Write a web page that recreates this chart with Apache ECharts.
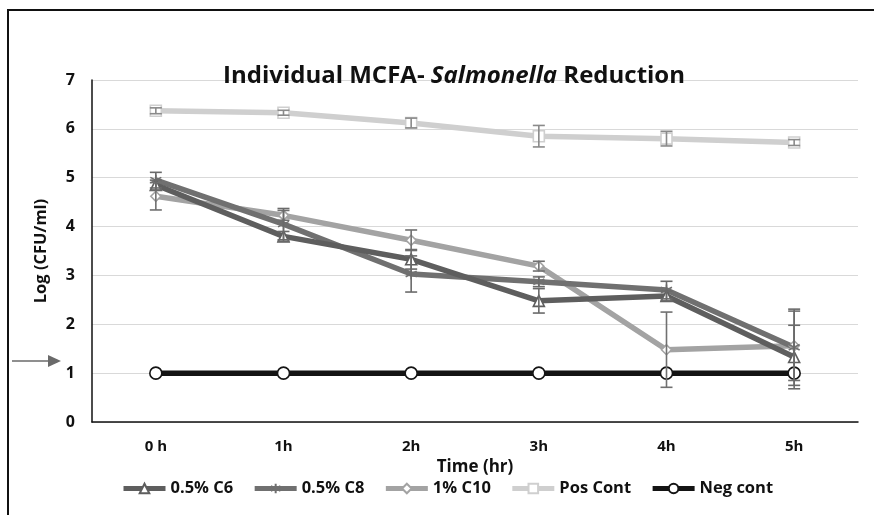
<!DOCTYPE html>
<html>
<head>
<meta charset="utf-8">
<script src="https://cdn.jsdelivr.net/npm/echarts@6/dist/echarts.min.js"></script>
<style>html,body{margin:0;padding:0;background:#fff}#c{width:874px;height:515px}</style>
</head>
<body>
<div id="c"></div>
<script>
const categories = ['0 h', '1h', '2h', '3h', '4h', '5h'];
const yTicks = [0, 1, 2, 3, 4, 5, 6, 7];
const c6 = [4.85, 3.80, 3.33, 2.48, 2.58, 1.33];
const c6Err = [0.10, 0.10, 0.20, 0.25, 0.10, 0.65];
const c8 = [4.95, 4.05, 3.03, 2.87, 2.70, 1.53];
const c8Err = [0.16, 0.32, 0.37, 0.10, 0.18, 0.78];
const c10 = [4.62, 4.23, 3.72, 3.19, 1.48, 1.56];
const c10Err = [0.28, 0.10, 0.21, 0.10, 0.77, 0.71];
const posCont = [6.37, 6.33, 6.12, 5.85, 5.80, 5.72];
const posErr = [0.06, 0.05, 0.10, 0.22, 0.15, 0.06];
const negCont = [1, 1, 1, 1, 1, 1];
const negErr = [0, 0, 0, 0, 0, 0];

const FONT = 'Open Sans';
const asterisk = 'path://M0,-10L0,10M-8.7,-5L8.7,5M-8.7,5L8.7,-5';

function errData(vals, errs) {
  return vals.map((v, i) => [i, v - errs[i], v + errs[i]]);
}
function errSeries(name, vals, errs, color) {
  return {
    type: 'custom', name: name + ' err', z: 5, silent: true,
    data: errData(vals, errs),
    encode: { x: 0, y: [1, 2] },
    renderItem: function (params, api) {
      const lo = api.coord([api.value(0), api.value(1)]);
      const hi = api.coord([api.value(0), api.value(2)]);
      const w = 6;
      const st = { stroke: color, lineWidth: 1.6 };
      if (Math.abs(hi[1] - lo[1]) < 1) return null;
      return { type: 'group', children: [
        { type: 'line', shape: { x1: lo[0], y1: lo[1], x2: hi[0], y2: hi[1] }, style: st },
        { type: 'line', shape: { x1: lo[0] - w, y1: lo[1], x2: lo[0] + w, y2: lo[1] }, style: st },
        { type: 'line', shape: { x1: hi[0] - w, y1: hi[1], x2: hi[0] + w, y2: hi[1] }, style: st }
      ]};
    }
  };
}

const colC6 = '#5e5e5e', colC8 = '#707070', colC10 = '#a3a3a3', colPos = '#cfcfcf', colNeg = '#141414';

function lineSeries(name, data, color, symbol, size, z, fill) {
  return {
    type: 'line', name: name, data: data, z: z,
    symbol: symbol, symbolSize: size,
    lineStyle: { color: color, width: 5.5 },
    itemStyle: { color: fill || '#fff', borderColor: color, borderWidth: 1.6 },
    emphasis: { disabled: true }
  };
}

const chart = echarts.init(document.getElementById('c'));
chart.setOption({
  animation: false,
  backgroundColor: '#fff',
  textStyle: { fontFamily: FONT },
  title: {
    text: 'Individual MCFA- {i|Salmonella} Reduction',
    left: 449, top: 59, textAlign: 'center',
    textStyle: {
      fontFamily: FONT, fontWeight: 'bold', fontSize: 24, color: '#111',
      rich: { i: { fontFamily: FONT, fontWeight: 'bold', fontStyle: 'italic', fontSize: 24, color: '#111' } }
    }
  },
  grid: { left: 92, right: 16, top: 80, bottom: 93, containLabel: false },
  legend: {
    bottom: 13, left: 116, itemWidth: 42, itemHeight: 12, itemGap: 19,
    lineStyle: { width: 5 },
    textStyle: { fontFamily: FONT, fontWeight: 'bold', fontSize: 16.5, color: '#111' },
    data: ['0.5% C6', '0.5% C8', '1% C10', 'Pos Cont', 'Neg cont']
  },
  xAxis: {
    type: 'category', data: categories, boundaryGap: true,
    name: 'Time (hr)', nameLocation: 'middle', nameGap: 32,
    nameTextStyle: { fontFamily: FONT, fontWeight: 'bold', fontSize: 17, color: '#111' },
    axisLine: { lineStyle: { color: '#111', width: 1.5 } },
    axisTick: { show: false },
    axisLabel: { fontFamily: FONT, fontWeight: 'bold', fontSize: 15, color: '#111', margin: 17 },
    splitLine: { show: false }
  },
  yAxis: {
    type: 'value', min: yTicks[0], max: yTicks[yTicks.length - 1], interval: 1,
    name: 'Log (CFU/ml)', nameLocation: 'middle', nameGap: 42, nameRotate: 90,
    nameTextStyle: { fontFamily: FONT, fontWeight: 'bold', fontSize: 16.5, color: '#111' },
    axisLine: { show: true, lineStyle: { color: '#111', width: 1.5 } },
    axisTick: { show: false },
    axisLabel: { fontFamily: FONT, fontWeight: 'bold', fontSize: 16, color: '#111', margin: 17 },
    splitLine: { lineStyle: { color: '#d9d9d9', width: 1.2 } }
  },
  graphic: [
    { type: 'rect', shape: { x: 8, y: 10, width: 1000, height: 700 }, style: { fill: 'none', stroke: '#111', lineWidth: 2 }, z: 100 },
    { type: 'line', shape: { x1: 12, y1: 361, x2: 52, y2: 361 }, style: { stroke: '#6a6a6a', lineWidth: 1.5 }, z: 100 },
    { type: 'polygon', shape: { points: [[48, 355], [61, 361], [48, 367]] }, style: { fill: '#6a6a6a' }, z: 100 }
  ],
  series: [
    lineSeries('Pos Cont', posCont, colPos, 'rect', 11, 2),
    lineSeries('1% C10', c10, colC10, 'diamond', 10, 3),
    lineSeries('0.5% C8', c8, colC8, asterisk, 11, 3, colC8),
    lineSeries('0.5% C6', c6, colC6, 'triangle', 11, 3),
    lineSeries('Neg cont', negCont, colNeg, 'circle', 12, 4),
    errSeries('Pos Cont', posCont, posErr, '#8a8a8a'),
    errSeries('1% C10', c10, c10Err, '#707070'),
    errSeries('0.5% C8', c8, c8Err, '#6a6a6a'),
    errSeries('0.5% C6', c6, c6Err, '#6a6a6a'),
    errSeries('Neg cont', negCont, negErr, '#333')
  ]
});
</script>
</body>
</html>
